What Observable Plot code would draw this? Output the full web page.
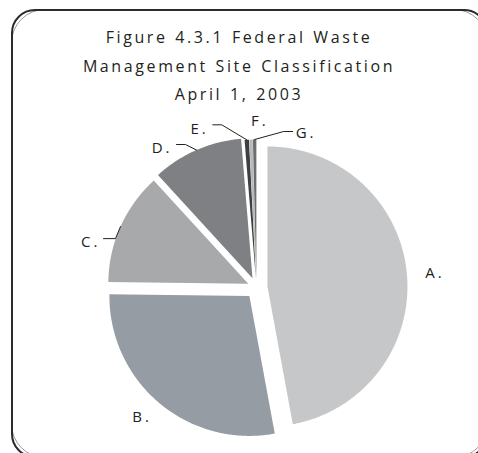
<!DOCTYPE html>
<html><head><meta charset="utf-8">
<script src="https://cdn.jsdelivr.net/npm/d3@7"></script>
<script src="https://cdn.jsdelivr.net/npm/@observablehq/plot@0.6"></script>
<style>
html,body{margin:0;padding:0;background:#fff;width:478px;height:453px;overflow:hidden;position:relative;font-family:"Open Sans",sans-serif;}
#frame2{position:absolute;left:11px;top:9px;width:477px;height:449px;border:1px solid #9a9a9a;border-radius:34px;box-sizing:border-box;}
#frame{position:absolute;left:11px;top:9px;width:477px;height:449px;border:2px solid #2b2b2b;border-radius:24px;box-sizing:border-box;}
#title{position:absolute;left:0;top:23px;width:478px;text-align:center;font-size:16px;line-height:28.5px;letter-spacing:2.6px;word-spacing:1px;color:#231f20;}
#chart{position:absolute;left:0;top:112px;}
#chart text{letter-spacing:3px;}
</style></head><body>
<div id="frame2"></div>
<div id="frame"></div>
<div id="title"></div>
<div id="chart"></div>
<script>
// ---- data ----
const categories = ["A.", "B.", "C.", "D.", "E.", "F.", "G."];
const values = [47.1, 28.1, 13.0, 10.5, 0.5, 0.4, 0.4];
const titleLines = ["Figure 4.3.1 Federal Waste", "Management Site Classification", "April 1, 2003"];

// ---- styles / layout ----
const sliceColors = ["#c6c7c9", "#969ca4", "#a8a9ab", "#7f8083", "#3f3f41", "#b9babc", "#6d6e71"];
const explodePx = [11, 11, 9, 10, 8, 8, 8];
const R = 140, cx = 256, cy = 175, W = 478, H = 341;
// label offsets (px, screen) relative to each slice's arc point at its mid-angle
const labelLayout = {
  "A.": {anchor: "middle", at: [28, -1]},
  "B.": {anchor: "middle", at: [-17, 14]},
  "C.": {anchor: "end", at: [-20, 16], leader: [[-5, 12], [-17, 12]]},
  "D.": {anchor: "end", at: [-24, -1.5], leader: [[-11, -5.5], [-20, -5.5]]},
  "E.": {anchor: "end", at: [-38, -11], leader: [[-25, -15], [-34, -15]]},
  "F.": {anchor: "middle", at: [9, -18]},
  "G.": {anchor: "start", at: [41, -6], leader: [[29, -8], [38, -8]]}
};

document.getElementById("title").innerHTML = titleLines.map(t => `<div>${t}</div>`).join("");

const pie = d3.pie().sort(null).value(d => d).startAngle(0).endAngle(2 * Math.PI)(values);
const slices = pie.map((p, i) => {
  const a0 = p.startAngle, a1 = p.endAngle, m = (a0 + a1) / 2, e = explodePx[i] / R;
  const ox = e * Math.sin(m), oy = e * Math.cos(m);
  return {key: categories[i], a0, a1, m, ox, oy, ax: ox + Math.sin(m), ay: oy + Math.cos(m)};
});
const piePoints = slices.flatMap(s => {
  const n = Math.max(2, Math.ceil((s.a1 - s.a0) / 0.01));
  const pts = [{key: s.key, x: s.ox, y: s.oy}];
  for (let k = 0; k <= n; k++) {
    const a = s.a0 + (s.a1 - s.a0) * k / n;
    pts.push({key: s.key, x: s.ox + Math.sin(a), y: s.oy + Math.cos(a)});
  }
  pts.push({key: s.key, x: s.ox, y: s.oy});
  return pts;
});
const off = (s, p) => ({x: s.ax + p[0] / R, y: s.ay - p[1] / R});
const labels = slices.map(s => {
  const L = labelLayout[s.key];
  return {key: s.key, anchor: L.anchor, ...off(s, L.at)};
});
const leaders = slices.filter(s => labelLayout[s.key].leader).flatMap(s => {
  const L = labelLayout[s.key];
  return [{key: s.key, x: s.ax, y: s.ay}, ...L.leader.map(p => ({key: s.key, ...off(s, p)}))];
});

const textOpts = a => ({x: "x", y: "y", text: "key", textAnchor: a, fontSize: 15, fill: "#231f20"});
const chart = Plot.plot({
  width: W, height: H, margin: 0,
  style: {fontFamily: "'Open Sans', sans-serif", background: "transparent", overflow: "visible"},
  x: {domain: [-cx / R, (W - cx) / R], range: [0, W], axis: null},
  y: {domain: [cy / R, -(H - cy) / R], range: [0, H], axis: null},
  color: {domain: categories, range: sliceColors},
  marks: [
    Plot.line(piePoints, {x: "x", y: "y", z: "key", fill: "key", stroke: "none", curve: "linear"}),
    Plot.line(leaders, {x: "x", y: "y", z: "key", stroke: "#231f20", strokeWidth: 1, curve: "linear"}),
    ...["start", "middle", "end"].map(a => Plot.text(labels.filter(d => d.anchor === a), textOpts(a)))
  ]
});
document.getElementById("chart").appendChild(chart);
</script>
</body></html>
